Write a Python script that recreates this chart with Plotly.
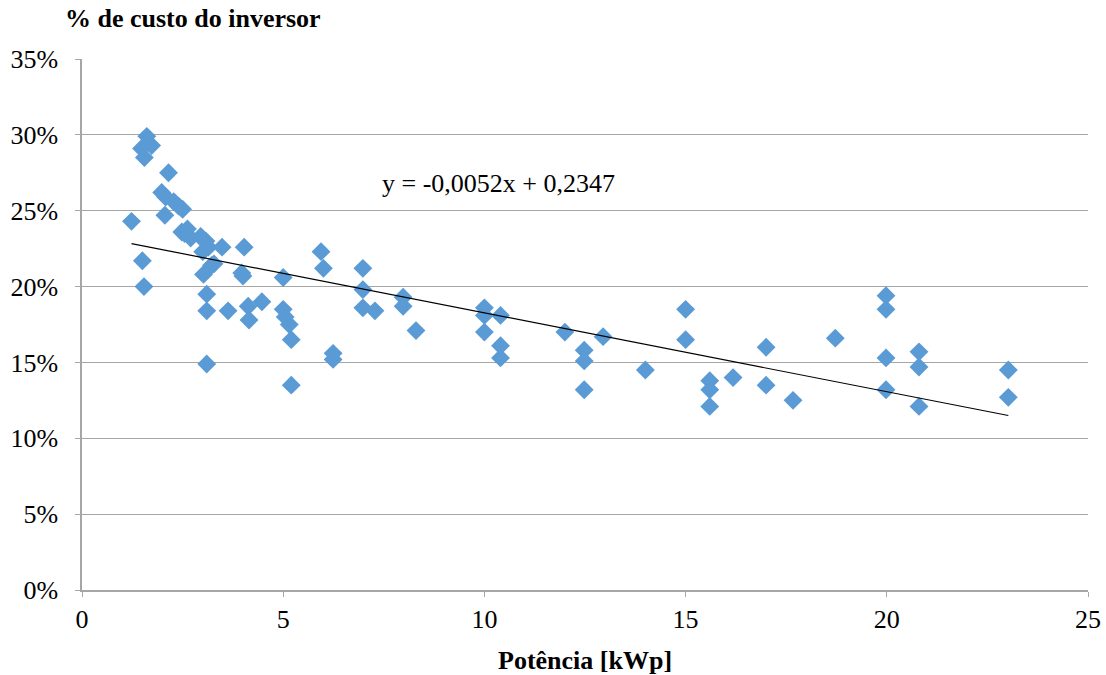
import plotly.graph_objects as go

# Data: power (kWp) and inverter cost share (fraction)
potencia = [1.23, 1.50, 1.54, 1.48, 1.55, 1.61, 1.73, 2.15, 1.98, 2.08, 2.06, 2.28, 2.40, 2.50,
            2.48, 2.62, 2.70, 2.97, 3.00, 3.08, 3.14, 3.22, 3.28, 3.02, 3.48, 4.03, 3.97, 4.00,
            3.10, 3.10, 3.63, 4.13, 4.47, 4.15, 3.10, 5.00, 5.00, 5.05, 5.15, 5.20, 5.20, 5.94,
            6.00, 6.24, 6.24, 6.98, 6.98, 6.98, 7.28, 7.98, 7.98, 8.30, 10.00, 10.00, 10.00, 10.40,
            10.40, 10.40, 12.00, 12.48, 12.48, 12.48, 12.95, 14.00, 15.00, 15.00, 15.60, 15.60,
            15.60, 16.18, 17.00, 17.00, 17.67, 18.72, 19.98, 19.98, 19.98, 19.98, 20.80, 20.80,
            20.80, 23.02, 23.02, 2.55, 2.95]
custo = [0.243, 0.217, 0.200, 0.291, 0.285, 0.299, 0.293, 0.275, 0.262, 0.259, 0.247, 0.256, 0.253, 0.251,
         0.236, 0.238, 0.232, 0.232, 0.223, 0.230, 0.226, 0.214, 0.215, 0.208, 0.226, 0.226, 0.209, 0.207,
         0.195, 0.184, 0.184, 0.187, 0.190, 0.178, 0.149, 0.206, 0.185, 0.180, 0.175, 0.165, 0.135, 0.223,
         0.212, 0.156, 0.152, 0.212, 0.198, 0.186, 0.184, 0.193, 0.187, 0.171, 0.186, 0.181, 0.170, 0.181,
         0.161, 0.153, 0.170, 0.158, 0.151, 0.132, 0.167, 0.145, 0.185, 0.165, 0.138, 0.132,
         0.121, 0.140, 0.160, 0.135, 0.125, 0.166, 0.194, 0.185, 0.153, 0.132, 0.157, 0.147,
         0.121, 0.145, 0.127, 0.235, 0.233]

# Linear trendline coefficients (from the chart label)
slope = -0.0052
intercept = 0.2347
trend_x = [min(potencia), max(potencia)]
trend_y = [intercept + slope * v for v in trend_x]

x_ticks = [0, 5, 10, 15, 20, 25]
y_ticks = [0, 0.05, 0.10, 0.15, 0.20, 0.25, 0.30, 0.35]
y_labels = ["0%", "5%", "10%", "15%", "20%", "25%", "30%", "35%"]

FONT = "Liberation Serif"

fig = go.Figure()
fig.add_trace(go.Scatter(
    x=potencia, y=custo, mode="markers",
    marker=dict(symbol="diamond", size=14.5, color="#5B9BD5", line=dict(width=0)),
    showlegend=False, hoverinfo="x+y"))
fig.add_trace(go.Scatter(
    x=trend_x, y=trend_y, mode="lines",
    line=dict(color="black", width=1.2), showlegend=False, hoverinfo="skip"))

fig.add_annotation(x=10.35, y=0.268, xref="x", yref="y",
                   text="y = -0,0052x + 0,2347", showarrow=False,
                   font=dict(family=FONT, size=26, color="black"))

# axis title for x
fig.add_annotation(x=0.5, y=-(660 - 590) / 531, xref="paper", yref="paper",
                   xanchor="center", yanchor="middle", showarrow=False,
                   text="<b>Potência [kWp]</b>", font=dict(family=FONT, size=26, color="black"))

fig.update_layout(
    width=1106, height=675,
    margin=dict(l=82, r=18, t=59, b=85),
    paper_bgcolor="white", plot_bgcolor="white",
    font=dict(family=FONT, size=26, color="black"),
    title=dict(text="<b>% de custo do inversor</b>", x=65/1106, xanchor="left",
               y=1 - 18/675, yanchor="middle", font=dict(family=FONT, size=26, color="black")),
    xaxis=dict(range=[0, 25], tickvals=x_ticks, showgrid=False, zeroline=False,
               showline=True, linecolor="#A6A6A6", linewidth=1.5,
               ticks="outside", ticklen=5, tickcolor="#A6A6A6",
               automargin=False, ticklabeloverflow="allow",
               tickfont=dict(family=FONT, size=26)),
    yaxis=dict(range=[0, 0.35], tickvals=y_ticks, ticktext=y_labels,
               showgrid=True, gridcolor="#A6A6A6", gridwidth=1.2, zeroline=False,
               showline=True, linecolor="#A6A6A6", linewidth=1.5,
               ticks="outside", ticklen=5, tickcolor="#A6A6A6",
               automargin=False, ticklabeloverflow="allow", ticklabelstandoff=12,
               tickfont=dict(family=FONT, size=26)),
)

fig.write_html("out.html")
